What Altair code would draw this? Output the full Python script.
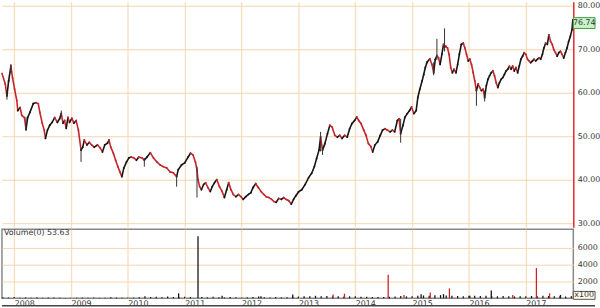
import altair as alt
import pandas as pd
import numpy as np

# ---------------- data ----------------
price_year = [2007.786, 2007.844, 2007.873, 2007.903, 2007.943, 2007.972, 2008.007, 2008.047, 2008.064, 2008.104,
              2008.134, 2008.181, 2008.209, 2008.238, 2008.278, 2008.337, 2008.382, 2008.424, 2008.452, 2008.494,
              2008.529, 2008.551, 2008.586, 2008.626, 2008.668, 2008.713, 2008.760, 2008.800, 2008.829, 2008.859,
              2008.887, 2008.916, 2008.946, 2008.974, 2009.015, 2009.050, 2009.090, 2009.130, 2009.177, 2009.207,
              2009.234, 2009.281, 2009.321, 2009.363, 2009.408, 2009.467, 2009.513, 2009.554, 2009.594, 2009.641,
              2009.669, 2009.699, 2009.745, 2009.785, 2009.825, 2009.860, 2009.895, 2009.930, 2009.977, 2010.017,
              2010.058, 2010.104, 2010.151, 2010.191, 2010.250, 2010.290, 2010.337, 2010.394, 2010.451, 2010.510,
              2010.568, 2010.625, 2010.684, 2010.742, 2010.799, 2010.858, 2010.886, 2010.945, 2011.002, 2011.060,
              2011.102, 2011.147, 2011.188, 2011.216, 2011.234, 2011.263, 2011.293, 2011.333, 2011.367, 2011.408,
              2011.449, 2011.484, 2011.524, 2011.564, 2011.611, 2011.658, 2011.698, 2011.738, 2011.773, 2011.814,
              2011.854, 2011.901, 2011.946, 2011.988, 2012.028, 2012.075, 2012.120, 2012.162, 2012.202, 2012.249,
              2012.294, 2012.341, 2012.393, 2012.433, 2012.480, 2012.527, 2012.567, 2012.607, 2012.654, 2012.701,
              2012.741, 2012.781, 2012.828, 2012.875, 2012.915, 2012.955, 2013.002, 2013.059, 2013.118, 2013.176,
              2013.233, 2013.280, 2013.320, 2013.362, 2013.390, 2013.424, 2013.466, 2013.511, 2013.553, 2013.593,
              2013.640, 2013.685, 2013.727, 2013.767, 2013.814, 2013.859, 2013.901, 2013.941, 2013.987, 2014.027,
              2014.062, 2014.102, 2014.149, 2014.189, 2014.231, 2014.276, 2014.306, 2014.346, 2014.393, 2014.440,
              2014.480, 2014.520, 2014.566, 2014.613, 2014.653, 2014.693, 2014.740, 2014.770, 2014.798, 2014.839,
              2014.874, 2014.914, 2014.954, 2014.989, 2015.031, 2015.071, 2015.100, 2015.135, 2015.175, 2015.204,
              2015.232, 2015.262, 2015.310, 2015.349, 2015.379, 2015.406, 2015.436, 2015.465, 2015.493, 2015.523,
              2015.552, 2015.570, 2015.592, 2015.622, 2015.650, 2015.679, 2015.709, 2015.736, 2015.771, 2015.801,
              2015.830, 2015.865, 2015.900, 2015.928, 2015.957, 2015.987, 2016.015, 2016.044, 2016.074, 2016.102,
              2016.131, 2016.161, 2016.189, 2016.218, 2016.248, 2016.275, 2016.305, 2016.334, 2016.362, 2016.392,
              2016.421, 2016.449, 2016.479, 2016.508, 2016.536, 2016.566, 2016.595, 2016.623, 2016.653, 2016.682,
              2016.710, 2016.739, 2016.769, 2016.797, 2016.826, 2016.856, 2016.884, 2016.913, 2016.943, 2016.971,
              2017.000, 2017.030, 2017.058, 2017.087, 2017.117, 2017.145, 2017.174, 2017.204, 2017.232, 2017.261,
              2017.291, 2017.318, 2017.348, 2017.378, 2017.406, 2017.435, 2017.465, 2017.492, 2017.522, 2017.551,
              2017.579, 2017.609, 2017.638, 2017.666, 2017.696, 2017.725, 2017.753, 2017.783, 2017.812, 2017.826]
price_close = [64.4, 62.0, 59.3, 62.7, 66.1, 63.4, 60.9, 58.2, 55.9, 56.6,
               54.8, 54.3, 51.6, 54.3, 55.5, 57.5, 57.7, 57.5, 55.5, 53.0,
               51.4, 49.5, 51.4, 52.5, 53.2, 54.3, 53.2, 54.0, 55.2, 53.0,
               53.6, 51.8, 54.3, 53.2, 54.1, 53.0, 53.6, 51.4, 46.8, 47.5,
               49.1, 48.0, 48.6, 48.0, 47.5, 48.0, 47.3, 46.4, 48.0, 48.4,
               49.1, 47.5, 46.1, 44.5, 43.0, 41.8, 40.7, 42.7, 44.1, 45.0,
               45.2, 45.0, 44.5, 45.2, 45.0, 44.5, 45.2, 46.2, 45.0, 44.1,
               43.4, 43.0, 42.7, 41.8, 41.6, 40.7, 42.3, 43.4, 43.9, 45.2,
               46.1, 45.7, 44.1, 42.3, 40.0, 38.4, 37.7, 38.9, 39.3, 38.2,
               37.3, 38.4, 39.3, 40.0, 38.4, 37.3, 35.9, 37.7, 39.3, 37.7,
               36.6, 36.1, 36.6, 36.1, 35.5, 36.1, 36.6, 37.0, 38.2, 39.1,
               38.2, 37.3, 36.6, 36.1, 35.9, 35.5, 35.0, 34.8, 35.7, 35.5,
               35.9, 35.5, 35.2, 34.4, 35.5, 36.3, 37.2, 37.7, 38.9, 40.4,
               41.5, 43.0, 44.9, 46.8, 49.8, 46.8, 48.3, 50.6, 52.5, 52.1,
               50.2, 49.8, 50.2, 49.5, 50.2, 49.8, 51.7, 52.9, 53.6, 54.4,
               53.6, 52.9, 51.4, 50.2, 48.3, 47.6, 46.4, 48.0, 48.7, 50.2,
               51.4, 51.7, 51.4, 51.0, 51.4, 51.0, 53.6, 54.0, 50.6, 52.5,
               54.4, 55.2, 55.9, 56.7, 55.2, 55.9, 58.9, 60.8, 62.7, 64.2,
               65.8, 67.0, 67.8, 66.5, 64.6, 67.6, 68.5, 68.0, 66.5, 68.8,
               71.1, 70.5, 70.7, 70.3, 68.8, 65.8, 64.6, 65.4, 64.6, 66.5,
               68.8, 71.1, 71.4, 70.3, 68.8, 67.3, 67.7, 66.5, 64.6, 62.7,
               60.5, 62.0, 61.2, 60.5, 60.8, 58.9, 61.6, 63.1, 63.9, 64.6,
               65.0, 63.9, 62.3, 61.2, 62.3, 63.1, 63.5, 64.2, 65.0, 65.4,
               66.1, 65.4, 66.1, 65.0, 65.8, 64.6, 66.1, 67.7, 68.4, 69.2,
               68.8, 67.7, 67.3, 66.9, 67.3, 67.7, 67.3, 67.7, 68.0, 67.7,
               68.8, 70.3, 71.4, 71.1, 73.3, 71.8, 71.1, 69.9, 69.2, 68.4,
               69.2, 69.5, 68.8, 68.0, 69.2, 70.3, 71.8, 73.0, 74.5, 76.74]

wick_year = [2007.873, 2007.943, 2008.209, 2008.829, 2009.177, 2010.290, 2010.858, 2011.216,
             2013.390, 2013.424, 2014.798, 2015.379, 2015.436, 2015.570, 2016.131, 2016.275]
wick_low = [58.4, 64.5, 51.2, 54.5, 44.1, 43.0, 38.4, 35.9, 46.5, 45.7, 48.5, 64.0, 67.5, 69.5, 57.0, 58.0]
wick_high = [60.5, 66.6, 54.3, 55.9, 47.2, 45.0, 41.2, 43.0, 51.0, 47.5, 54.0, 67.0, 72.4, 74.8, 61.0, 60.5]

base_vol_year = [2007.8, 2007.9, 2008.0, 2008.1, 2008.2, 2008.3, 2008.4, 2008.5, 2008.6, 2008.7, 2008.8, 2008.9,
                 2009.0, 2009.1, 2009.2, 2009.3, 2009.4, 2009.5, 2009.6, 2009.7, 2009.8, 2009.9,
                 2010.0, 2010.1, 2010.2, 2010.3, 2010.4, 2010.5, 2010.6, 2010.7, 2010.8, 2010.9,
                 2011.0, 2011.1, 2011.3, 2011.4, 2011.5, 2011.6, 2011.7, 2011.8, 2011.9,
                 2012.0, 2012.1, 2012.2, 2012.3, 2012.4, 2012.5, 2012.6, 2012.7, 2012.8, 2012.9,
                 2013.0, 2013.1, 2013.2, 2013.3, 2013.4, 2013.5, 2013.6, 2013.7, 2013.8, 2013.9,
                 2014.0, 2014.1, 2014.2, 2014.3, 2014.4, 2014.5, 2014.6, 2014.7, 2014.8, 2014.9,
                 2015.0, 2015.1, 2015.2, 2015.3, 2015.4, 2015.5, 2015.6, 2015.7, 2015.8, 2015.9,
                 2016.0, 2016.1, 2016.2, 2016.3, 2016.4, 2016.5, 2016.6, 2016.7, 2016.8, 2016.9,
                 2017.0, 2017.1, 2017.2, 2017.3, 2017.4, 2017.5, 2017.6, 2017.7, 2017.8]
base_vol = [120, 90, 150, 80, 110, 70, 130, 60, 90, 100, 70, 50,
            80, 60, 90, 70, 100, 60, 80, 120, 90, 70,
            110, 90, 130, 240, 150, 180, 140, 220, 160, 120,
            200, 150, 160, 120, 180, 140, 110, 150, 120,
            100, 130, 170, 220, 140, 110, 160, 120, 140, 180,
            210, 260, 240, 300, 260, 280, 230, 250, 220, 240,
            260, 200, 180, 150, 170, 160, 190, 210, 280, 230,
            260, 320, 340, 300, 360, 380, 340, 300, 280, 260,
            300, 320, 280, 300, 260, 240, 280, 260, 230, 250,
            240, 280, 260, 300, 280, 260, 240, 220, 250]

spike_year = [2010.893, 2011.234, 2011.658, 2012.341, 2012.900, 2013.610, 2013.810, 2014.579, 2014.857,
              2015.158, 2015.319, 2015.552, 2015.656, 2016.015, 2016.392, 2016.769, 2017.186, 2017.417, 2017.609]
spike_vol = [600, 7400, 300, 250, 450, 450, 550, 2820, 400,
             500, 700, 500, 1180, 300, 940, 400, 3600, 600, 400]
spike_kind = ["up", "up", "up", "up", "up", "down", "down", "down", "down",
              "up", "down", "up", "down", "up", "up", "down", "down", "down", "up"]

year_ticks = [2008, 2009, 2010, 2011, 2012, 2013, 2014, 2015, 2016, 2017]
price_ticks = [30, 35, 40, 45, 50, 55, 60, 65, 70, 75, 80]
vol_ticks = [2000, 4000, 6000]
last_price_text = "76.74"
volume_title = "Volume(0) 53.63"
vol_unit = "x100"

# ---------------- styling ----------------
GRID = "#f7d5ae"
FONT = "DejaVu Sans"
X_DOMAIN = [2007.786, 2017.835]
PRICE_DOMAIN = [29.09, 80.91]
VOL_DOMAIN = [0, 8235]
W = 578

xscale = alt.Scale(domain=X_DOMAIN, nice=False, zero=False)

# price segments
seg = pd.DataFrame({"year": price_year, "close": price_close})
seg["prev_year"] = seg["year"].shift(1)
seg["prev"] = seg["close"].shift(1)
seg = seg.dropna()
seg["dir"] = np.where(seg["close"] < seg["prev"], "down", "up")

price_axis_x = alt.Axis(values=year_ticks, labels=False, ticks=False, domain=False, grid=True,
                        gridColor=GRID, gridWidth=1, title=None)
price_axis_y = alt.Axis(orient="right", values=price_ticks, format=".2f", ticks=False,
                        domainColor="#e0282a", domainWidth=1.5, grid=True, gridColor=GRID,
                        labelFontSize=8, labelPadding=4, labelColor="#333333", title=None, labelFont=FONT)
yscale = alt.Scale(domain=PRICE_DOMAIN, nice=False, zero=False)
dir_scale = alt.Scale(domain=["up", "down"], range=["#151515", "#c4262b"])

segments = alt.Chart(seg).mark_rule(strokeWidth=1.6, strokeCap="square").encode(
    x=alt.X("prev_year:Q", scale=xscale, axis=price_axis_x),
    x2="year:Q",
    y=alt.Y("prev:Q", scale=yscale, axis=price_axis_y),
    y2="close:Q",
    color=alt.Color("dir:N", scale=dir_scale, legend=None),
)

wicks_df = pd.DataFrame({"year": wick_year, "low": wick_low, "high": wick_high})
wicks = alt.Chart(wicks_df).mark_rule(strokeWidth=1, color="#333333").encode(
    x=alt.X("year:Q", scale=xscale), y=alt.Y("low:Q", scale=yscale), y2="high:Q")

last_df = pd.DataFrame({"label": [last_price_text]})
last_box = alt.Chart(last_df).mark_rect(fill="#c9f2c9", stroke="#3fa33f", strokeWidth=1).encode(
    x=alt.value(W), x2=alt.value(600), y=alt.value(16), y2=alt.value(27))
last_text = alt.Chart(last_df).mark_text(fontSize=8, font=FONT, color="#333333", align="center",
                                         baseline="middle").encode(
    x=alt.value(589), y=alt.value(21.5), text="label:N")

price = alt.layer(segments, wicks, last_box, last_text).properties(
    width=W, height=228, view=alt.ViewBackground(stroke=None))

# volume
vol_df = pd.concat([
    pd.DataFrame({"year": base_vol_year, "vol": base_vol, "kind": ["base"] * len(base_vol)}),
    pd.DataFrame({"year": spike_year, "vol": spike_vol, "kind": spike_kind}),
])
vol_df["zero"] = 0
vol_axis_x = alt.Axis(values=year_ticks, format="d", labelAlign="left", ticks=False, domain=False,
                      grid=True, gridColor=GRID, labelFontSize=8, labelPadding=1, labelFont=FONT,
                      labelColor="#333333", labelFlush=False, title=None)
vol_axis_y = alt.Axis(orient="right", values=vol_ticks, format="d", ticks=False, domain=False,
                      grid=True, gridColor=GRID, labelFontSize=8, labelPadding=4, labelFont=FONT,
                      labelColor="#333333", title=None)
vscale = alt.Scale(domain=VOL_DOMAIN, nice=False, zero=True)
kind_scale = alt.Scale(domain=["base", "up", "down"], range=["#6a2a2a", "#555555", "#e07a7a"])

bars = alt.Chart(vol_df).mark_rule(strokeWidth=1.3).encode(
    x=alt.X("year:Q", scale=xscale, axis=vol_axis_x),
    y=alt.Y("vol:Q", scale=vscale, axis=vol_axis_y),
    y2="zero:Q",
    color=alt.Color("kind:N", scale=kind_scale, legend=None),
)
vt_df = pd.DataFrame({"label": [volume_title]})
vol_title = alt.Chart(vt_df).mark_text(fontSize=8, font=FONT, color="#333333", align="left",
                                       baseline="middle").encode(
    x=alt.value(2), y=alt.value(4), text="label:N")
unit_df = pd.DataFrame({"label": [vol_unit]})
unit_box = alt.Chart(unit_df).mark_rect(fill="#fffbea", stroke="#555555", strokeWidth=1).encode(
    x=alt.value(W), x2=alt.value(600), y=alt.value(63), y2=alt.value(71))
unit_text = alt.Chart(unit_df).mark_text(fontSize=8, font=FONT, color="#333333", align="center",
                                         baseline="middle").encode(
    x=alt.value(589), y=alt.value(67), text="label:N")
bottom_line = alt.Chart(unit_df).mark_rule(color="#444444", strokeWidth=1.5).encode(
    x=alt.value(0), x2=alt.value(600), y=alt.value(77.5))

volume = alt.layer(bars, vol_title, unit_box, unit_text, bottom_line).properties(
    width=W, height=70, view=alt.ViewBackground(stroke="#888888", strokeWidth=1.5))

chart = alt.vconcat(price, volume, spacing=1).properties(
    padding=0, background="white"
).configure(font=FONT)

chart.save("out.html", embed_options={"renderer": "svg", "actions": False})
